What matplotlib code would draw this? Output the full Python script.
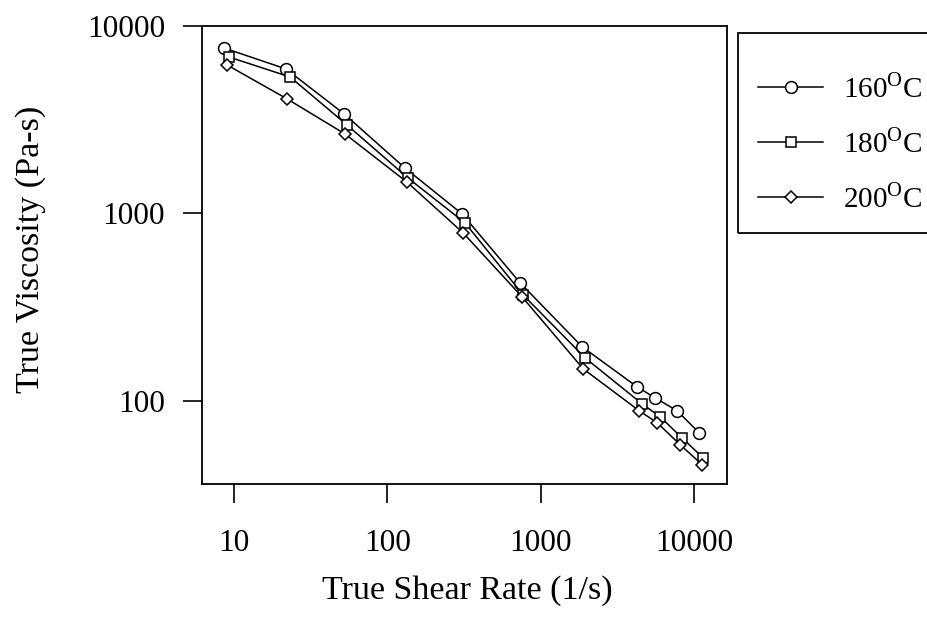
import matplotlib
matplotlib.use("Agg")
import matplotlib.pyplot as plt
from matplotlib.patches import Rectangle
from matplotlib.ticker import FixedLocator, NullLocator

plt.rcParams["font.family"] = ["Liberation Serif", "DejaVu Serif"]
plt.rcParams["mathtext.fontset"] = "custom"
plt.rcParams["mathtext.rm"] = "Liberation Serif"

# values
shear_160 = [8.6, 21.8, 52.3, 130, 307, 735, 1862, 4250, 5570, 7760, 10800]
visc_160 = [7630, 5900, 3390, 1747, 993, 425, 194, 118.5, 103.5, 88.3, 67.3]

shear_180 = [9.27, 23.2, 54.6, 136, 321, 767, 1950, 4580, 6010, 8360, 11460]
visc_180 = [6830, 5345, 2960, 1545, 889, 367, 169, 96.2, 82, 63.2, 49.5]

shear_200 = [9.0, 22.2, 53, 134, 312, 756, 1890, 4390, 5750, 8130, 11300]
visc_200 = [6195, 4080, 2650, 1470, 786, 358, 148, 88.3, 76.2, 58.1, 45.5]

labels = ["160$^{\\mathrm{O}}$C", "180$^{\\mathrm{O}}$C", "200$^{\\mathrm{O}}$C"]
x_ticks = [10, 100, 1000, 10000]
y_ticks = [100, 1000, 10000]

W, H = 927, 621
TICK_FS = 22.5
LABEL_FS = 24.5
LEG_FS = 21

fig = plt.figure(figsize=(W / 100, H / 100), dpi=100)
ax = fig.add_axes([0.2176, 0.2206, 0.5664, 0.7375])

style = dict(color="black", linewidth=1.1, markerfacecolor="white",
             markeredgecolor="black", markeredgewidth=1.1)
ax.plot(shear_160, visc_160, marker="o", markersize=10, label=labels[0], **style)
ax.plot(shear_180, visc_180, marker="s", markersize=8, label=labels[1], **style)
ax.plot(shear_200, visc_200, marker="D", markersize=7.5, label=labels[2], **style)

ax.set_xscale("log")
ax.set_yscale("log")
ax.set_xlim(6.15, 16340)
ax.set_ylim(35.9, 10000)

ax.xaxis.set_major_locator(FixedLocator(x_ticks))
ax.yaxis.set_major_locator(FixedLocator(y_ticks))
ax.xaxis.set_minor_locator(NullLocator())
ax.yaxis.set_minor_locator(NullLocator())
ax.set_xticklabels([str(t) for t in x_ticks])
ax.set_yticklabels([str(t) for t in y_ticks])
ax.tick_params(axis="both", direction="out", length=13.5, width=1.2,
               labelsize=TICK_FS, colors="black")
ax.tick_params(axis="x", pad=19)
ax.tick_params(axis="y", pad=13)

for sp in ax.spines.values():
    sp.set_linewidth(1.3)
    sp.set_color("black")

# axis titles placed where the reference has them
fig.text(467 / W, 1 - 591 / H, "True Shear Rate (1/s)", fontsize=LABEL_FS,
         ha="center", va="center")
fig.text(31 / W, 1 - 249 / H, "True Viscosity (Pa-s)", fontsize=LABEL_FS,
         rotation=90, ha="center", va="center")

# legend box runs off the right edge in the reference
frame = Rectangle((738 / W, 1 - 233 / H), 260 / W, 200 / H,
                  transform=fig.transFigure, fill=False,
                  edgecolor="black", linewidth=1.3)
fig.patches.append(frame)

handles, leg_labels = ax.get_legend_handles_labels()
for h in handles:
    h.set_markersize(h.get_markersize() * 0.85)
fig.legend(handles, leg_labels, loc="upper left",
           bbox_to_anchor=(758 / W, 1 - 73 / H),
           bbox_transform=fig.transFigure, borderaxespad=0, borderpad=0,
           fontsize=LEG_FS, frameon=False,
           handlelength=2.23, handletextpad=0.68, labelspacing=0.86)

fig.savefig("out.png", dpi=100)
